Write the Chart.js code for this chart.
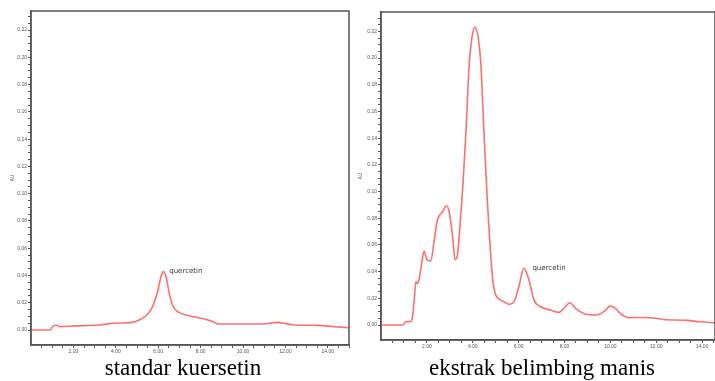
<!DOCTYPE html>
<html>
<head>
    <title>Kromatogram kuersetin</title>
    <script src="https://cdn.jsdelivr.net/npm/chart.js@4.4.0/dist/chart.umd.min.js"></script>
    <style>
        body {
            margin: 0;
            background: #fff;
            width: 715px;
            height: 381px;
            position: relative;
            overflow: hidden;
        }
        .panel {
            position: absolute;
            top: 0;
            height: 381px;
        }
        #left-panel { left: 0; width: 355px; }
        #right-panel { left: 355px; width: 360px; }
        .caption {
            position: absolute;
            top: 355px;
            font-family: "Liberation Serif", "Times New Roman", serif;
            font-size: 23px;
            color: #000;
            background: #fff;
            line-height: 26px;
            white-space: nowrap;
            transform: translateX(-50%);
        }
    </style>
</head>
<body>
    <div id="left-panel" class="panel"><canvas id="std-chart"></canvas></div>
    <div id="right-panel" class="panel"><canvas id="ext-chart"></canvas></div>
    <div class="caption" style="left:183px">standar kuersetin</div>
    <div class="caption" style="left:542px">ekstrak belimbing manis</div>

    <script>
        // standar kuersetin (minutes, AU)
        const stdTime = [0, 0.9, 1.05, 1.2, 1.37, 2.08, 3.19, 3.98, 4.78, 5.1, 5.46, 5.73, 5.97, 6.13, 6.24, 6.37, 6.52, 6.68, 6.92, 7.32, 7.79, 8.19, 8.59, 8.83, 9.54, 10.97, 11.44, 11.68, 11.92, 12.4, 13.5, 14.3, 15.0];
        const stdAU = [0, 0, 0.003, 0.0035, 0.0025, 0.003, 0.0037, 0.005, 0.0056, 0.0073, 0.011, 0.017, 0.028, 0.039, 0.0428, 0.039, 0.027, 0.018, 0.0134, 0.011, 0.0093, 0.008, 0.006, 0.0044, 0.0044, 0.0044, 0.0054, 0.0056, 0.005, 0.0037, 0.0034, 0.0024, 0.0017];

        // ekstrak belimbing manis (minutes, AU)
        const extTime = [0, 0.94, 1.09, 1.3, 1.37, 1.45, 1.52, 1.59, 1.66, 1.77, 1.88, 2.0, 2.17, 2.32, 2.46, 2.68, 2.86, 2.97, 3.12, 3.23, 3.33, 3.45, 3.57, 3.7, 3.84, 3.96, 4.1, 4.24, 4.36, 4.49, 4.63, 4.76, 4.87, 4.97, 5.08, 5.36, 5.58, 5.8, 6.01, 6.23, 6.45, 6.67, 6.96, 7.39, 7.75, 7.97, 8.23, 8.48, 8.84, 9.42, 9.71, 10.0, 10.22, 10.43, 10.8, 11.45, 11.74, 12.32, 13.34, 13.9, 14.6];
        const extAU = [0, 0, 0.0025, 0.0027, 0.0062, 0.0187, 0.0325, 0.031, 0.034, 0.046, 0.0554, 0.049, 0.048, 0.0637, 0.0787, 0.0849, 0.0894, 0.085, 0.066, 0.049, 0.052, 0.076, 0.105, 0.1436, 0.1935, 0.215, 0.223, 0.215, 0.1935, 0.1436, 0.095, 0.058, 0.034, 0.024, 0.0205, 0.0175, 0.0155, 0.0175, 0.0287, 0.0425, 0.0337, 0.0187, 0.0137, 0.0112, 0.0095, 0.0125, 0.0167, 0.0125, 0.0087, 0.0075, 0.01, 0.0142, 0.0125, 0.0087, 0.0055, 0.0057, 0.0055, 0.0042, 0.0035, 0.0025, 0.0017];

        // tick values
        const yTickLabels = [0.00, 0.02, 0.04, 0.06, 0.08, 0.10, 0.12, 0.14, 0.16, 0.18, 0.20, 0.22];
        const xTickLabels = [2, 4, 6, 8, 10, 12, 14];

        // peak label: [time, AU, text]
        const stdPeak = [6.52, 0.0434, 'quercetin'];
        const extPeak = [6.6, 0.0427, 'quercetin'];

        const lineColor = '#ff6f6f';
        const axisColor = '#555';
        const labelColor = '#555';

        const framePlugin = {
            id: 'frame',
            afterDraw(chart) {
                const a = chart.chartArea;
                const ctx = chart.ctx;
                ctx.save();
                ctx.strokeStyle = axisColor;
                ctx.lineWidth = 1.5;
                ctx.strokeRect(a.left, a.top, a.right - a.left, a.bottom - a.top);
                const peak = chart.options.plugins.peak;
                ctx.fillStyle = '#333';
                ctx.font = '7px "DejaVu Sans", Arial, sans-serif';
                ctx.textBaseline = 'middle';
                ctx.fillText(peak[2], chart.scales.x.getPixelForValue(peak[0]), chart.scales.y.getPixelForValue(peak[1]));
                ctx.restore();
            }
        };

        function makeChart(id, time, au, cfg) {
            const ctx = document.getElementById(id).getContext('2d');
            return new Chart(ctx, {
                type: 'line',
                data: {
                    datasets: [{
                        data: time.map((t, i) => ({ x: t, y: au[i] })),
                        borderColor: lineColor,
                        borderWidth: 1.6,
                        pointRadius: 0,
                        cubicInterpolationMode: 'monotone',
                        fill: false
                    }]
                },
                options: {
                    responsive: true,
                    maintainAspectRatio: false,
                    animation: false,
                    layout: { padding: cfg.padding },
                    plugins: {
                        legend: { display: false },
                        tooltip: { enabled: false },
                        peak: cfg.peak
                    },
                    scales: {
                        x: {
                            type: 'linear',
                            min: 0,
                            max: cfg.xMax,
                            afterBuildTicks: (s) => {
                                const ticks = [];
                                for (let v = 0.5; v <= cfg.xMax; v += 0.5) ticks.push({ value: v });
                                s.ticks = ticks;
                            },
                            afterFit: (s) => { s.height = cfg.xHeight; },
                            ticks: {
                                autoSkip: false,
                                maxRotation: 0,
                                padding: 1,
                                color: labelColor,
                                font: { size: 5, family: 'Arial' },
                                callback: (v) => xTickLabels.includes(v) ? v.toFixed(2) : ''
                            },
                            grid: { drawOnChartArea: false, tickLength: 3, color: axisColor },
                            border: { color: axisColor, width: 1.5 },
                            title: {
                                display: cfg.showMinutes,
                                text: 'Minutes',
                                color: labelColor,
                                font: { size: 5, family: 'Arial' },
                                padding: { top: 0, bottom: 0 }
                            }
                        },
                        y: {
                            min: cfg.yMin,
                            max: cfg.yMax,
                            afterBuildTicks: (s) => {
                                const ticks = [];
                                for (let i = 0; i <= 46; i++) ticks.push({ value: i * 0.005 });
                                s.ticks = ticks;
                            },
                            afterFit: (s) => { s.width = cfg.yWidth; },
                            ticks: {
                                autoSkip: false,
                                padding: 1,
                                color: labelColor,
                                font: { size: 5, family: 'Arial' },
                                callback: (v) => {
                                    const hit = yTickLabels.find(l => Math.abs(l - v) < 1e-6);
                                    return hit !== undefined ? hit.toFixed(2) : '';
                                }
                            },
                            grid: { drawOnChartArea: false, tickLength: 3, color: axisColor },
                            border: { color: axisColor, width: 1.5 },
                            title: {
                                display: true,
                                text: 'AU',
                                color: labelColor,
                                font: { size: 5, family: 'Arial' },
                                padding: { top: 0, bottom: 0 }
                            }
                        }
                    }
                },
                plugins: [framePlugin]
            });
        }

        makeChart('std-chart', stdTime, stdAU, {
            padding: { left: 10, top: 11, right: 6, bottom: 0 },
            yWidth: 21, xHeight: 36, xMax: 15, yMin: -0.011, yMax: 0.234,
            showMinutes: false, peak: stdPeak
        });

        makeChart('ext-chart', extTime, extAU, {
            padding: { left: 3, top: 12, right: 0, bottom: 0 },
            yWidth: 23, xHeight: 41, xMax: 14.56, yMin: -0.0112, yMax: 0.2345,
            showMinutes: true, peak: extPeak
        });
    </script>
</body>
</html>
